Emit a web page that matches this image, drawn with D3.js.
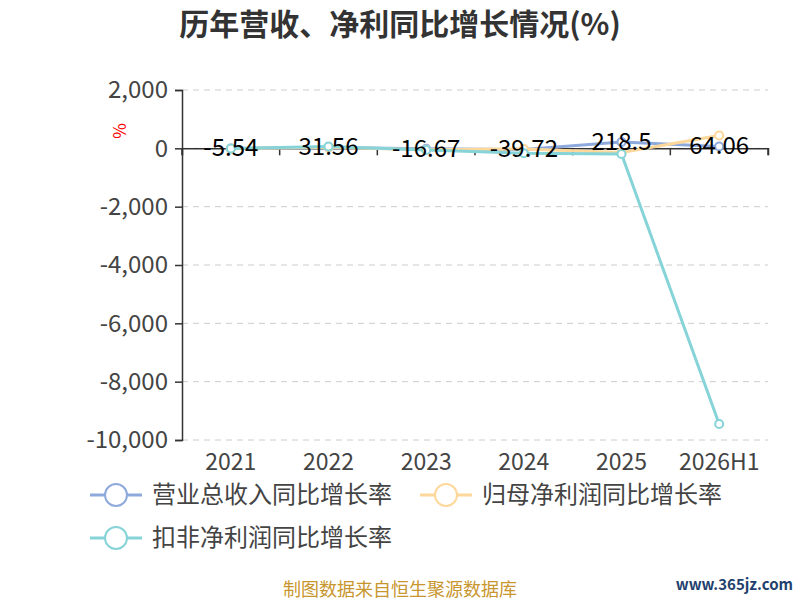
<!DOCTYPE html>
<html>
<head>
<meta charset="utf-8">
<script src="https://cdn.jsdelivr.net/npm/d3@7"></script>
<style>
  body { margin: 0; background: #fff; }
  text { font-family: "Noto Sans CJK SC", "Noto Sans", sans-serif; }
</style>
</head>
<body>
<div id="chart"></div>
<script>
const years = ["2021", "2022", "2023", "2024", "2025", "2026H1"];
const revenueGrowth = [-5.54, 31.56, -16.67, -39.72, 218.5, 64.06];
const netProfitGrowth = [-10, 40, -50, -20, -140, 440];
const deductedProfitGrowth = [-5, 60, -60, -170, -195, -9450];
const yTicks = [2000, 0, -2000, -4000, -6000, -8000, -10000];
const seriesNames = ["营业总收入同比增长率", "归母净利润同比增长率", "扣非净利润同比增长率"];
const colors = ["#8eaadc", "#fdd89a", "#86d3d8"];

const width = 800, height = 600;
const plotLeft = 182, plotRight = 768, plotTop = 90, plotBottom = 440;

const svg = d3.select("#chart").append("svg")
  .attr("width", width)
  .attr("height", height);

// scales
const x = d3.scaleBand().domain(years).range([plotLeft, plotRight]);
const y = d3.scaleLinear().domain([-10000, 2000]).range([plotBottom, plotTop]);

// title
svg.append("text")
  .attr("x", 400).attr("y", 35)
  .attr("text-anchor", "middle")
  .attr("font-size", 30).attr("font-weight", "bold")
  .attr("fill", "#333")
  .text("历年营收、净利同比增长情况(%)");

// grid lines
svg.append("g").selectAll("line")
  .data(yTicks)
  .join("line")
  .attr("x1", plotLeft).attr("x2", plotRight)
  .attr("y1", d => y(d)).attr("y2", d => y(d))
  .attr("stroke", "#ccc")
  .attr("stroke-dasharray", "6,5");

// y axis
const fmt = d3.format(",");
const yAxis = svg.append("g")
  .attr("transform", `translate(${plotLeft},0)`)
  .call(d3.axisLeft(y).tickValues(yTicks).tickSize(7).tickPadding(7)
    .tickFormat(d => fmt(d).replace("−", "-")));
yAxis.select(".domain").attr("stroke", "#333").attr("stroke-width", 1.5);
yAxis.selectAll(".tick line").attr("stroke", "#333").attr("stroke-width", 1.5);
yAxis.selectAll("text")
  .attr("font-size", 24).attr("fill", "#444")
  .attr("font-family", "'Noto Sans', sans-serif");

// unit label
svg.append("text")
  .attr("transform", `translate(126,131) rotate(-90)`)
  .attr("text-anchor", "middle")
  .attr("font-size", 17).attr("fill", "red")
  .text("%");

// x axis at zero
const xAxis = svg.append("g")
  .attr("transform", `translate(0,${y(0)})`)
  .call(d3.axisBottom(x).tickSize(7).tickFormat(""));
xAxis.select(".domain").attr("stroke", "#333").attr("stroke-width", 1.5);
xAxis.selectAll(".tick").remove();
const boundaries = years.map(d => x(d)).concat([plotRight]);
xAxis.selectAll(".bnd")
  .data(boundaries)
  .join("line")
  .attr("x1", d => d).attr("x2", d => d)
  .attr("y1", 0).attr("y2", 7)
  .attr("stroke", "#333").attr("stroke-width", 1.5);

// x labels at bottom
svg.append("g").selectAll("text")
  .data(years)
  .join("text")
  .attr("x", d => x(d) + x.bandwidth() / 2)
  .attr("y", 470)
  .attr("text-anchor", "middle")
  .attr("font-size", 23).attr("fill", "#444")
  .attr("font-family", "'Noto Sans', sans-serif")
  .text(d => d);

// series
const series = [revenueGrowth, netProfitGrowth, deductedProfitGrowth];
const line = d3.line()
  .x((d, i) => x(years[i]) + x.bandwidth() / 2)
  .y(d => y(d));

series.forEach((vals, s) => {
  svg.append("path")
    .datum(vals)
    .attr("d", line)
    .attr("fill", "none")
    .attr("stroke", colors[s])
    .attr("stroke-width", 3);
  svg.append("g").selectAll("circle")
    .data(vals)
    .join("circle")
    .attr("cx", (d, i) => x(years[i]) + x.bandwidth() / 2)
    .attr("cy", d => y(d))
    .attr("r", 4)
    .attr("fill", "#fff")
    .attr("stroke", colors[s])
    .attr("stroke-width", 2);
});

// data labels for revenue
svg.append("g").selectAll("text")
  .data(revenueGrowth)
  .join("text")
  .attr("x", (d, i) => x(years[i]) + x.bandwidth() / 2)
  .attr("y", d => y(d) + 8)
  .attr("text-anchor", "middle")
  .attr("font-size", 24).attr("fill", "#000")
  .attr("font-family", "'Noto Sans', sans-serif")
  .text(d => d);

// legend
const legendPos = [[90, 495], [420, 495], [90, 538]];
seriesNames.forEach((name, s) => {
  const [lx, ly] = legendPos[s];
  const g = svg.append("g").attr("transform", `translate(${lx},${ly})`);
  g.append("line")
    .attr("x1", 0).attr("x2", 52)
    .attr("stroke", colors[s]).attr("stroke-width", 3);
  g.append("circle")
    .attr("cx", 26).attr("r", 11)
    .attr("fill", "#fff")
    .attr("stroke", colors[s]).attr("stroke-width", 2);
  g.append("text")
    .attr("x", 62).attr("y", 8)
    .attr("font-size", 24).attr("fill", "#444")
    .text(name);
});

// footer
svg.append("text")
  .attr("x", 400).attr("y", 596)
  .attr("text-anchor", "middle")
  .attr("font-size", 18).attr("fill", "#c8962e")
  .text("制图数据来自恒生聚源数据库");

svg.append("text")
  .attr("x", 793).attr("y", 590)
  .attr("text-anchor", "end")
  .attr("font-size", 15).attr("font-weight", "bold").attr("fill", "#1f3f6e")
  .attr("font-family", "'DejaVu Serif', serif")
  .text("www.365jz.com");
</script>
</body>
</html>
